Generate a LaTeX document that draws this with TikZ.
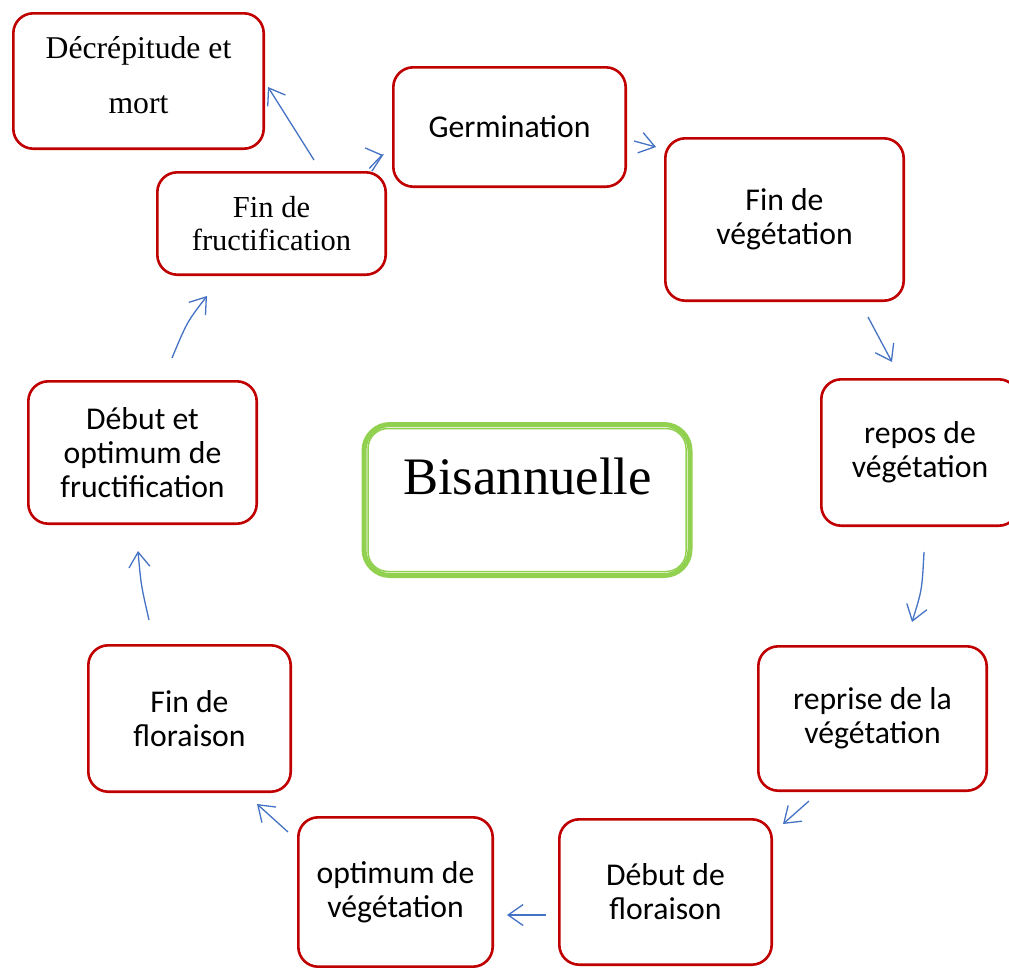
\documentclass[tikz,border=0pt]{standalone}
\usepackage{fontspec}
\setmainfont{Liberation Serif}
\newfontfamily\calfont{Carlito}
\usetikzlibrary{arrows.meta,calc}
\definecolor{boxred}{HTML}{C00000}
\definecolor{arrblue}{HTML}{4472C4}
\definecolor{cgreen}{HTML}{92D050}
\tikzset{
 stage/.style={draw=boxred, line width=2.6pt, rounded corners=20pt, fill=white, align=center, inner sep=0pt, font=\calfont\fontsize{31.7}{34}\selectfont},
 serifstage/.style={stage, font=\fontsize{30.5}{33}\selectfont},
 arr/.style={draw=arrblue, line width=1.3pt, -{Straight Barb[length=15pt,width=21pt,line width=1.3pt]}},
 centerbox/.style={draw=cgreen, line width=5pt, rounded corners=26pt, fill=white, inner sep=0pt},
}
\begin{document}
\begin{tikzpicture}[x=1pt,y=-1pt]
\useasboundingbox (0,0) rectangle (1009,967);
\clip (0,0) rectangle (1009,967);
% stages
\node[stage, font=\fontsize{31.7}{55}\selectfont, minimum width=250.4pt, minimum height=135.4pt] (dec) at (138.5,81) {Décrépitude et\\mort\rule[-12pt]{0pt}{0pt}};
\node[stage, minimum width=232.4pt, minimum height=119.4pt] (germ) at (509.5,127) {Germination};
\node[stage, minimum width=238.4pt, minimum height=162.4pt] (finveg) at (784.5,219.5) {Fin de\\végétation};
\node[stage, minimum width=197.4pt, minimum height=146.4pt] (repos) at (920,452.5) {repos de\\végétation};
\node[stage, minimum width=228.4pt, minimum height=144.4pt] (reprise) at (872.5,718.5) {reprise de la\\végétation};
\node[stage, minimum width=212.4pt, minimum height=145.4pt] (debflor) at (665.5,892) {Début de\\floraison};
\node[stage, minimum width=194.4pt, minimum height=149.4pt] (optveg) at (395.5,892) {optimum de\\végétation};
\node[stage, minimum width=202.4pt, minimum height=146.4pt] (finflor) at (189.5,718.5) {Fin de\\floraison};
\node[stage, minimum width=228.4pt, minimum height=142.4pt] (debopt) at (142.5,452.5) {Début et\\optimum de\\fructification};
\node[serifstage, minimum width=228.4pt, minimum height=102.4pt] (finfruct) at (271.5,223.5) {Fin de\\fructification\rule[-1pt]{0pt}{0pt}};
% centre
\node[centerbox, minimum width=326pt, minimum height=151pt] (cbox) at (527,500) {};
\draw[cgreen, line width=1.5pt, rounded corners=20pt] ($(cbox.north west)+(6.5,6.5)$) rectangle ($(cbox.south east)+(-6.5,-6.5)$);
\node[inner sep=0pt, font=\fontsize{52.7}{60}\selectfont] (ctext) at (527.5,476.5) {Bisannuelle};
% arrow end points
\coordinate (a1) at (314,160); \coordinate (a2) at (268,87);
\coordinate (b1) at (372,171); \coordinate (b2) at (383,155);
\coordinate (c1) at (634,141); \coordinate (c2) at (656,147);
\coordinate (d1) at (868,317); \coordinate (d2) at (892,362);
\coordinate (e1) at (924,552); \coordinate (e2) at (912,622);
\coordinate (f1) at (809,801); \coordinate (f2) at (783,824);
\coordinate (g1) at (546,915); \coordinate (g2) at (507,915);
\coordinate (h1) at (288,832); \coordinate (h2) at (257,804);
\coordinate (i1) at (149,620); \coordinate (i2) at (138,551);
\coordinate (j1) at (172,358); \coordinate (j2) at (207,296);
% arrows
\draw[arr] (a1) -- (a2);
\draw[arr] (b1) -- ($(b2)+(-0.6,0.12)$) -- (b2);
\draw[arr] (c1) -- (c2);
\draw[arr] (d1) -- (d2);
\draw[arr] (e1) .. controls (922,590) .. (e2);
\draw[arr] (f1) -- (f2);
\draw[arr] (g1) -- (g2);
\draw[arr] (h1) -- (h2);
\draw[arr] (i1) .. controls (141,585) .. (i2);
\draw[arr] (j1) .. controls (187,322) .. (j2);
\end{tikzpicture}
\end{document}
